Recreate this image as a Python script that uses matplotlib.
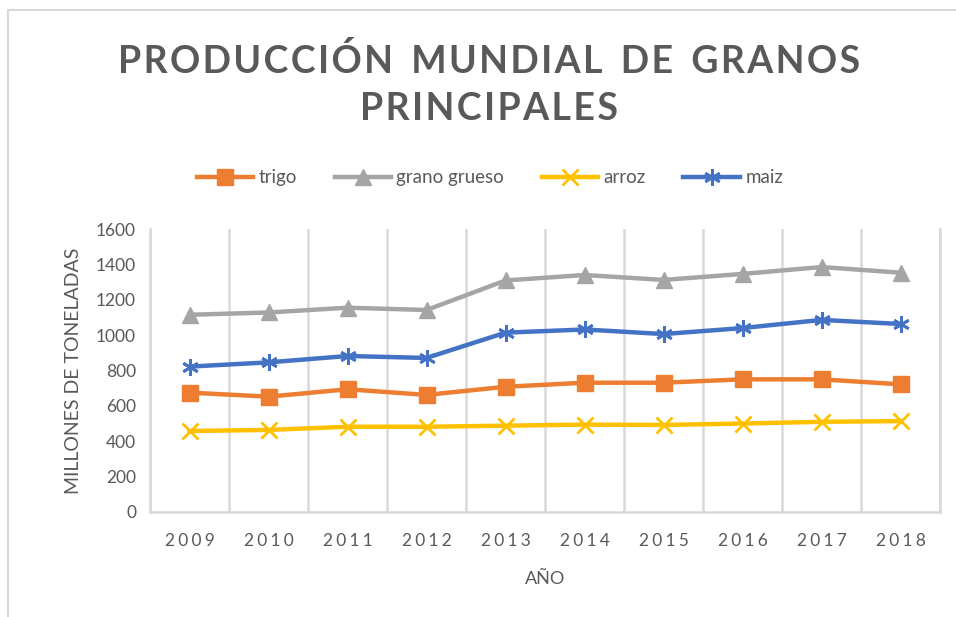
import matplotlib
matplotlib.use('Agg')
import matplotlib.pyplot as plt
from matplotlib.patches import Rectangle

# data
YEARS = ['2009', '2010', '2011', '2012', '2013', '2014', '2015', '2016', '2017', '2018']
trigo = [675, 652, 694, 662, 708, 731, 731, 750, 750, 722]
grano_grueso = [1115, 1128, 1155, 1142, 1309, 1340, 1312, 1346, 1385, 1353]
arroz = [458, 464, 482, 482, 488, 494, 492, 500, 510, 514]
maiz = [822, 846, 882, 871, 1014, 1032, 1006, 1040, 1086, 1063]

TEXT = '#595959'
GRID = '#d9d9d9'

plt.rcParams['font.family'] = ['Lato', 'DejaVu Sans']

fig = plt.figure(figsize=(9.56, 6.17), dpi=100)
W, H = 956, 617


def spaced(s):
    # fake letter spacing with hair spaces
    return '\u200a'.join(s).replace('\u200a \u200a', '  ')


# outer chart frame, cut by the image edges
fig.patches.append(Rectangle((8 / W, -0.1), 1.2, (1 - 10 / H) + 0.1,
                             transform=fig.transFigure, fill=False,
                             edgecolor=GRID, lw=1.5))
# caption of the page above, mostly cut off
fig.text(20 / W, 1 - 4 / H, '2009-2018 I', family='Liberation Sans',
         fontsize=18, color='black', ha='left', va='bottom')

ax = fig.add_axes([150 / W, 1 - 512 / H, 790 / W, 283 / H])
x = list(range(len(YEARS)))

ax.plot(x, trigo, color='#ED7D31', lw=3.2, marker='s', ms=11, label='trigo')
ax.plot(x, grano_grueso, color='#A5A5A5', lw=3.2, marker='^', ms=11, label='grano grueso')
ax.plot(x, arroz, color='#FFC000', lw=3.2, marker='x', ms=11, mew=2, label='arroz')
ax.plot(x, maiz, color='#4472C4', lw=3.2, marker=(6, 2, 0), ms=12, mew=2, label='maiz')

ax.set_xlim(-0.5, 9.5)
ax.set_ylim(0, 1600)
ax.set_yticks(range(0, 1601, 200))
ax.set_xticks(x)
ax.set_xticklabels(['\u2009\u200a'.join(y) for y in YEARS])
ax.set_xticks([i + 0.5 for i in range(-1, 10)], minor=True)
ax.grid(axis='x', which='minor', color=GRID, lw=1.8)
ax.tick_params(which='both', length=0)
ax.tick_params(axis='x', labelsize=12.5, colors=TEXT, pad=15)
ax.tick_params(axis='y', labelsize=12.5, colors=TEXT, pad=10)

ax.spines['top'].set_visible(False)
for s in ['left', 'right', 'bottom']:
    ax.spines[s].set_color(GRID)
    ax.spines[s].set_linewidth(1.8)

ax.set_ylabel('MILLONES DE TONELADAS', fontsize=14, color=TEXT, labelpad=10)
ax.set_xlabel('AÑO', fontsize=13, color=TEXT, labelpad=16)

fig.text(489 / W, 1 - 61 / H, spaced('PRODUCCIÓN MUNDIAL DE GRANOS'),
         fontsize=27, fontweight='bold', color=TEXT, ha='center', va='center')
fig.text(489 / W, 1 - 109 / H, spaced('PRINCIPALES'), fontsize=27, fontweight='bold',
         color=TEXT, ha='center', va='center')

leg = fig.legend(loc='center', bbox_to_anchor=(490 / W, 1 - 178 / H), ncol=4,
                 frameon=False, fontsize=13.5, handlelength=3, columnspacing=2.0,
                 handletextpad=0.3)
for t in leg.get_texts():
    t.set_color(TEXT)

fig.savefig('out.png', dpi=100)
